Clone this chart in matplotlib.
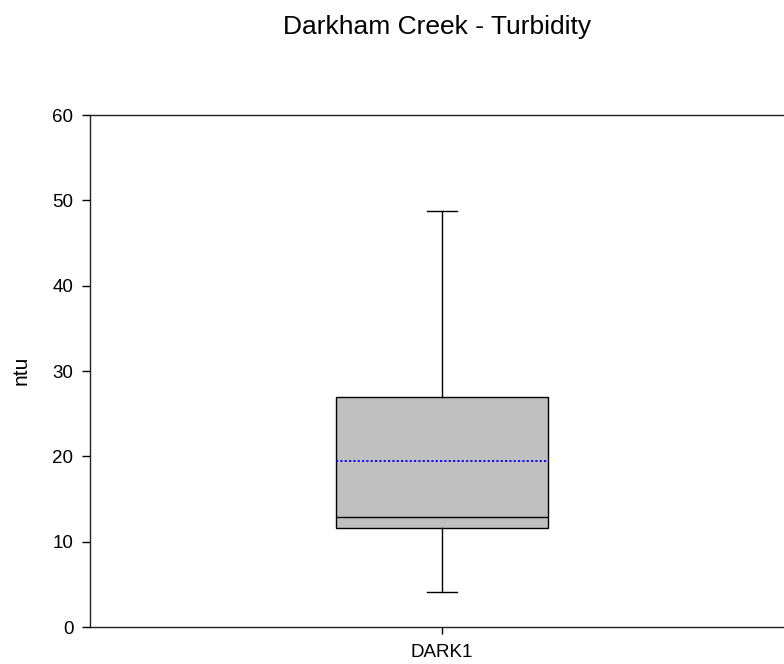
import matplotlib
matplotlib.use("Agg")
import matplotlib.pyplot as plt

plt.rcParams['font.family'] = ['Liberation Sans', 'DejaVu Sans']

# Summary statistics for the turbidity samples
categories = ["DARK1"]
whisker_low = [4.1]
q1 = [11.6]
median = [12.9]
mean = [19.5]
q3 = [27.0]
whisker_high = [48.8]

y_ticks = [0, 10, 20, 30, 40, 50, 60]

fig = plt.figure(figsize=(7.84, 6.64), dpi=100)
ax = fig.add_axes([90 / 784, 37 / 664, 704 / 784, 512 / 664])

stats = []
for i, name in enumerate(categories):
    stats.append(dict(label=name, whislo=whisker_low[i], q1=q1[i], med=median[i],
                      q3=q3[i], whishi=whisker_high[i], mean=mean[i], fliers=[]))

ax.bxp(stats, positions=[1], widths=0.3, capwidths=0.043, patch_artist=True,
       showmeans=True, meanline=True,
       boxprops=dict(facecolor='#c0c0c0', edgecolor='black', linewidth=1.0),
       medianprops=dict(color='black', linewidth=1.0),
       whiskerprops=dict(color='black', linewidth=1.0),
       capprops=dict(color='black', linewidth=1.0),
       meanprops=dict(color='blue', linewidth=1.3, linestyle=(0, (1.2, 1.2))))

ax.set_xlim(0.5, 1.5)
ax.set_ylim(0, 60)
ax.set_yticks(y_ticks)
ax.set_xticks([1])
ax.set_xticklabels(categories)

for side in ['left', 'top', 'bottom']:
    ax.spines[side].set_color('#222222')
    ax.spines[side].set_linewidth(1.0)
ax.spines['right'].set_visible(False)

ax.tick_params(axis='y', direction='out', length=6, width=1.0, labelsize=13.5, pad=6)
ax.tick_params(axis='x', direction='out', length=5, width=1.0, labelsize=13.5, pad=7)

fig.text(437 / 784, 1 - 27 / 664, "Darkham Creek - Turbidity", ha='center', va='center',
         fontsize=19)
fig.text(21 / 784, 1 - 370 / 664, "ntu", rotation=90, ha='center', va='center',
         fontsize=15)

fig.savefig("out.png", dpi=100)
